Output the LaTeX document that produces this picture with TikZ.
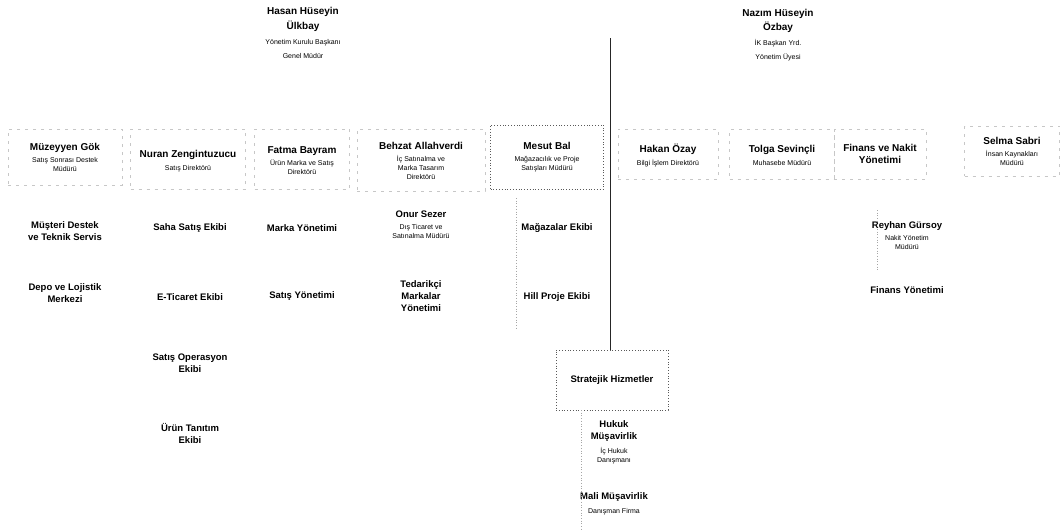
\documentclass[tikz,border=0pt]{standalone}
\usepackage{fontspec}
\setmainfont{Liberation Sans}
\begin{document}
\begin{tikzpicture}[x=1pt,y=-1pt,
  every node/.style={inner sep=0pt,outer sep=0pt},
  txt/.style={align=center,font=\fontsize{7}{9}\selectfont},
  box/.style={draw=black!22,dashed,dash pattern=on 3pt off 5pt,line width=0.6pt},
  dbox/.style={draw=black!65,dotted,line width=0.8pt},
  faint/.style={draw=black!35,dotted,line width=0.7pt},
  vline/.style={draw=black!85,line width=0.9pt}]
\newcommand\pn[1]{{\fontsize{10}{11}\selectfont\bfseries #1}}
\newcommand\cn[1]{{\fontsize{9.5}{11}\selectfont\bfseries #1}}
\useasboundingbox[fill=white] (0,0) rectangle (1061,531);

% top executives
\node[txt] (hh) at (303,33) {\pn{Hasan Hüseyin}\\[3pt]\pn{Ülkbay}\\[6pt]Yönetim Kurulu Başkanı\\[5pt]Genel Müdür};
\node[txt] (nh) at (778,35) {\pn{Nazım Hüseyin}\\[3pt]\pn{Özbay}\\[6pt]İK Başkan Yrd.\\[5pt]Yönetim Üyesi};

% first row boxes
\node[box,minimum width=114,minimum height=56] (b1) at (65,157) {};
\node[box,minimum width=115,minimum height=60] (b2) at (188,159) {};
\node[box,minimum width=95,minimum height=60] (b3) at (302,159) {};
\node[box,minimum width=128,minimum height=62] (b4) at (421,160) {};
\node[dbox,minimum width=113,minimum height=64] (b5) at (547,157) {};
\node[box,minimum width=100,minimum height=50] (b6) at (668,154) {};
\node[box,minimum width=105,minimum height=50] (b7) at (782,154) {};
\node[box,minimum width=92,minimum height=50] (b8) at (880,154) {};
\node[box,minimum width=95,minimum height=50] (b9) at (1012,151) {};

\node[txt] (t1) at (b1) {\pn{Müzeyyen Gök}\\[3pt]Satış Sonrası Destek\\Müdürü};
\node[txt] (t2) at ([yshift=-2]b2) {\pn{Nuran Zengintuzucu}\\[4pt]Satış Direktörü};
\node[txt] (t3) at ([yshift=-2]b3) {\pn{Fatma Bayram}\\[3pt]Ürün Marka ve Satış\\Direktörü};
\node[txt] (t4) at ([yshift=-1]b4) {\pn{Behzat Allahverdi}\\[3pt]İç Satınalma ve\\Marka Tasarım\\Direktörü};
\node[txt] (t5) at (b5) {\pn{Mesut Bal}\\[3pt]Mağazacılık ve Proje\\Satışları Müdürü};
\node[txt] (t6) at ([yshift=-1]b6) {\pn{Hakan Özay}\\[4pt]Bilgi İşlem Direktörü};
\node[txt] (t7) at ([yshift=-1]b7) {\pn{Tolga Sevinçli}\\[4pt]Muhasebe Müdürü};
\node[txt] (t8) at (b8) {\pn{Finans ve Nakit}\\[3pt]\pn{Yönetimi}};
\node[txt] (t9) at (b9) {\pn{Selma Sabri}\\[3pt]İnsan Kaynakları\\Müdürü};

% second level
\node[txt] (c11) at (65,231) {\cn{Müşteri Destek}\\[3pt]\cn{ve Teknik Servis}};
\node[txt] (c12) at (65,293) {\cn{Depo ve Lojistik}\\[3pt]\cn{Merkezi}};
\node[txt] (c21) at (190,228) {\cn{Saha Satış Ekibi}};
\node[txt] (c22) at (190,297) {\cn{E-Ticaret Ekibi}};
\node[txt] (c23) at (190,363) {\cn{Satış Operasyon}\\[3pt]\cn{Ekibi}};
\node[txt] (c24) at (190,433) {\cn{Ürün Tanıtım}\\[3pt]\cn{Ekibi}};
\node[txt] (c31) at (302,228) {\cn{Marka Yönetimi}};
\node[txt] (c32) at (302,296) {\cn{Satış Yönetimi}};
\node[txt] (c41) at (421,225) {\cn{Onur Sezer}\\[3pt]Dış Ticaret ve\\Satınalma Müdürü};
\node[txt] (c42) at (421,296) {\cn{Tedarikçi}\\[3pt]\cn{Markalar}\\[3pt]\cn{Yönetimi}};
\node[txt] (c51) at (557,228) {\cn{Mağazalar Ekibi}};
\node[txt] (c52) at (557,297) {\cn{Hill Proje Ekibi}};
\node[txt] (r1) at (907,236) {\cn{Reyhan Gürsoy}\\[3pt]Nakit Yönetim\\Müdürü};
\node[txt] (r2) at (907,290) {\cn{Finans Yönetimi}};

% strategic services
\node[dbox,minimum width=112,minimum height=60] (st) at (612,380) {};
\node[txt] (stt) at (st) {\cn{Stratejik Hizmetler}};
\node[txt] (hk) at (614,442) {\cn{Hukuk}\\[3pt]\cn{Müşavirlik}\\[5pt]İç Hukuk\\Danışmanı};
\node[txt] (mm) at (614,504) {\cn{Mali Müşavirlik}\\[5pt]Danışman Firma};

% connectors
\coordinate (vtop) at (610,38);
\coordinate (vbot) at (610,350);
\draw[vline] (vtop) -- (vbot);
\coordinate (m1) at (516,198);
\coordinate (m2) at (516,330);
\draw[faint] (m1) -- (m2);
\coordinate (s1) at (581,410);
\coordinate (s2) at (581,531);
\draw[faint] (s1) -- (s2);
\coordinate (f1) at (877,210);
\coordinate (f2) at (877,272);
\draw[faint] (f1) -- (f2);
\end{tikzpicture}
\end{document}
